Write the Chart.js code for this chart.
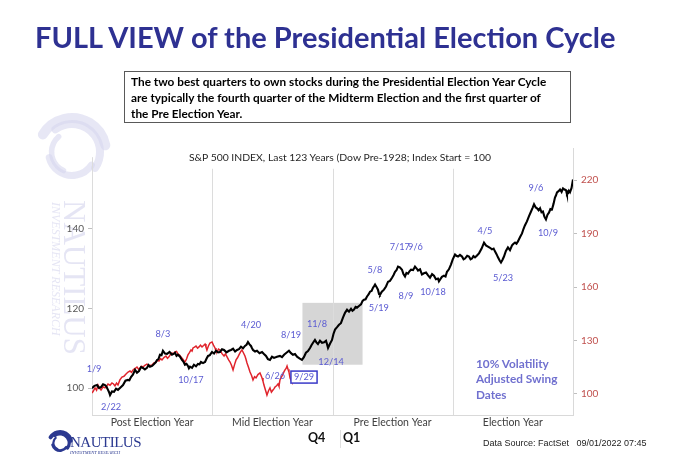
<!DOCTYPE html>
<html><head><meta charset="utf-8">
<script src="https://cdn.jsdelivr.net/npm/chart.js@4"></script>
<style>
html,body{margin:0;padding:0;background:#fff;}
#wrap{position:relative;width:680px;height:470px;overflow:hidden;font-family:Lato,'Open Sans',sans-serif;}
canvas{position:absolute;left:0;top:0;}
.abs{position:absolute;white-space:nowrap;}
</style></head><body>
<div id="wrap">
<canvas id="c" width="680" height="470"></canvas>
<div class="abs" style="left:35px;top:19px;font-size:29px;font-weight:bold;color:#2E3192;">FULL VIEW of the Presidential Election Cycle</div>
<div class="abs" style="left:124px;top:71px;width:447px;height:52px;border:1.5px solid #595959;box-sizing:border-box;padding:1.5px 6px;font-weight:bold;font-size:11.8px;line-height:16px;color:#000;">The two best quarters to own stocks during the Presidential Election Year Cycle<br>are typically the fourth quarter of the Midterm Election and the first quarter of<br>the Pre Election Year.</div>
<div class="abs" style="left:0;width:680px;text-align:center;top:151px;font-size:10.4px;color:#262626;">S&amp;P 500 INDEX, Last 123 Years (Dow Pre-1928; Index Start = 100</div>
<div class="abs" style="left:476px;top:356px;font-size:11.8px;font-weight:bold;color:#7070CF;line-height:15.3px;">10% Volatility<br>Adjusted Swing<br>Dates</div>
<div class="abs" style="left:308px;top:430px;font-size:12.5px;font-weight:bold;color:#111;">Q4</div>
<div class="abs" style="left:343px;top:430px;font-size:12.5px;font-weight:bold;color:#111;">Q1</div>
<div class="abs" style="left:340px;top:430px;width:1px;height:18px;background:#E0E0E0;"></div>
<div class="abs" style="left:483px;top:438px;font-size:9px;font-family:'Liberation Sans Narrow','Liberation Sans',sans-serif;color:#222;">Data Source: FactSet&nbsp;&nbsp;&nbsp;09/01/2022 07:45</div>
<div class="abs" style="left:70px;top:434px;font-size:15px;font-family:'Liberation Serif',serif;color:#2B3990;letter-spacing:-0.5px;">NAUTILUS</div>
<div class="abs" style="left:70px;top:450px;font-size:4.5px;font-style:italic;font-family:'Liberation Serif',serif;color:#2B3990;">INVESTMENT RESEARCH</div>
</div>
<script>
// ---- data ----
const yearLabels = ["Post Election Year", "Mid Election Year", "Pre Election Year", "Election Year"];
const leftTicks = [100, 120, 140];
const rightTicks = [100, 130, 160, 190, 220];

// 4-year cycle composite (left axis), x = years into cycle
const cycleX = [0,0.02,0.042,0.058,0.075,0.092,0.108,0.12,0.133,0.142,0.150,0.166,0.183,0.2,0.216,0.237,0.258,0.278,0.299,0.311,0.324,0.34,0.358,0.374,0.391,0.408,0.424,0.44,0.457,0.47,0.482,0.5,0.516,0.53,0.541,0.553,0.565,0.578,0.590,0.607,0.624,0.645,0.665,0.678,0.690,0.703,0.715,0.732,0.748,0.76,0.773,0.786,0.798,0.806,0.815,0.832,0.848,0.865,0.881,0.894,0.906,0.923,0.940,0.952,0.965,0.98,0.998,
1.015,1.031,1.048,1.064,1.081,1.098,1.118,1.139,1.156,1.173,1.19,1.206,1.222,1.239,1.256,1.272,1.285,1.297,1.31,1.322,1.33,1.339,1.356,1.372,1.393,1.414,1.43,1.447,1.463,1.480,1.497,1.514,1.538,1.563,1.58,1.597,1.617,1.638,1.655,1.671,1.688,1.705,1.725,1.746,1.762,1.779,1.796,1.813,1.825,1.838,1.854,1.866,1.879,1.896,1.913,1.93,1.946,1.955,1.963,1.98,1.996,
2.008,2.021,2.038,2.054,2.07,2.087,2.104,2.121,2.137,2.154,2.166,2.179,2.192,2.204,2.22,2.237,2.25,2.262,2.275,2.287,2.30,2.312,2.325,2.337,2.346,2.354,2.366,2.378,2.387,2.395,2.41,2.428,2.445,2.462,2.478,2.495,2.508,2.520,2.532,2.545,2.56,2.578,2.59,2.603,2.615,2.628,2.64,2.653,2.67,2.686,2.70,2.711,2.728,2.744,2.76,2.778,2.795,2.811,2.828,2.844,2.86,2.877,2.885,2.894,2.91,2.927,2.94,2.952,2.968,2.985,3.0,
3.019,3.03,3.044,3.06,3.077,3.09,3.102,3.12,3.135,3.148,3.160,3.172,3.185,3.2,3.218,3.24,3.260,3.276,3.293,3.31,3.326,3.34,3.351,3.364,3.376,3.39,3.401,3.414,3.426,3.442,3.459,3.476,3.493,3.505,3.518,3.53,3.542,3.56,3.576,3.588,3.600,3.617,3.635,3.651,3.664,3.676,3.69,3.701,3.714,3.726,3.738,3.750,3.762,3.775,3.788,3.800,3.812,3.825,3.838,3.850,3.858,3.867,3.88,3.892,3.905,3.917,3.93,3.942,3.95,3.958,3.966,3.975,3.988,4.0];
const cycleV = [100,100.6,100.8,100.1,100.3,101.0,100.8,100.4,99.6,99.0,98.3,99.2,99.1,99.9,99.6,100.2,100.8,101.9,102.1,102.0,102.8,103.4,104.6,103.9,104.3,105.3,105.1,104.7,105.1,105.8,105.4,105.6,106.1,106.5,107.1,107.3,108.4,108.3,109.4,108.7,108.6,109.1,108.4,108.6,108.9,108.1,108.4,107.9,107.1,106.7,105.9,106.1,105.6,105.0,105.4,105.1,105.9,105.5,106.1,106.0,106.6,106.3,106.6,107.4,108.1,108.3,109.1,
108.7,109.4,109.0,109.1,109.8,109.6,109.0,109.4,109.6,109.9,109.2,109.6,109.8,110.4,110.0,110.6,110.9,111.6,111.0,110.6,110.1,109.6,109.2,109.4,108.8,109.1,108.6,108.1,107.3,107.1,107.9,107.6,107.9,108.1,107.8,108.4,108.9,109.4,108.8,108.4,108.6,107.9,107.5,107.1,107.8,108.9,109.3,110.1,110.8,111.4,112.1,111.5,111.1,111.9,111.4,111.5,111.9,111.0,110.1,111.2,112.1,
113.6,114.7,115.3,115.9,116.3,117.7,118.9,119.7,119.2,119.9,119.4,119.7,120.4,120.2,120.6,121.0,121.9,122.2,122.3,123.0,123.5,124.2,124.4,125.2,125.6,126.0,125.4,124.7,123.6,123.4,124.2,124.7,125.5,126.7,126.9,127.7,128.4,129.2,129.6,130.5,130.3,129.7,128.6,128.0,128.9,128.7,129.3,129.7,129.6,130.5,130.0,129.5,129.8,128.5,128.8,129.0,128.3,127.7,128.6,128.2,127.3,127.5,126.8,127.2,127.9,128.2,128.0,129.2,129.8,131.0,132.3,
133.5,133.2,133.0,133.4,133.0,132.3,132.5,133.2,133.0,132.3,132.5,133.1,132.8,133.2,133.8,135.0,136.5,135.8,135.5,135.2,134.8,135.0,134.3,133.6,132.8,132.0,131.5,132.2,133.0,134.4,135.3,134.6,135.8,136.2,136.5,136.2,136.8,137.9,138.8,139.9,140.8,141.8,143.2,144.3,145.2,146.1,145.3,145.1,144.6,145.1,144.1,144.3,143.0,142.3,143.5,144.0,144.9,144.8,146.2,147.8,148.3,149.1,149.4,149.8,149.2,150.1,149.8,149.6,148.6,148.8,149.5,149.1,150.2,152.3];

// current cycle 2021-2022 (right axis)
const currentX = [0,0.012,0.025,0.038,0.050,0.062,0.075,0.092,0.108,0.12,0.133,0.15,0.166,0.179,0.191,0.204,0.216,0.232,0.249,0.266,0.283,0.3,0.316,0.328,0.341,0.358,0.374,0.387,0.399,0.412,0.424,0.44,0.457,0.478,0.499,0.515,0.532,0.545,0.557,0.57,0.582,0.598,0.615,0.628,0.640,0.652,0.665,0.678,0.690,0.703,0.715,0.728,0.740,0.756,0.773,0.786,0.798,0.81,0.823,0.832,0.840,0.852,0.865,0.878,0.890,0.902,0.915,0.928,0.940,0.948,0.956,0.968,0.981,0.998,1.01,1.023,1.031,1.040,1.052,1.064,1.081,1.098,1.11,1.123,1.136,1.148,1.16,1.173,1.186,1.198,1.21,1.222,1.235,1.247,1.26,1.272,1.28,1.289,1.302,1.314,1.327,1.339,1.352,1.364,1.38,1.397,1.406,1.414,1.422,1.430,1.443,1.455,1.468,1.480,1.492,1.505,1.514,1.522,1.535,1.547,1.555,1.563,1.576,1.588,1.597,1.605,1.614,1.622,1.63,1.638,1.647,1.655,1.663];
const currentV = [100.5,101.8,103.4,102.1,105.0,103.3,102.2,104.0,103.4,104.2,105.6,104.9,106.2,105.6,104.5,106.1,105.0,107.9,109.5,109.9,111.2,112.3,112.9,112.1,113.5,114.3,115.1,113.9,114.6,115.6,115.1,116.1,116.8,115.9,116.3,117.4,117.9,119.0,118.5,119.8,119.1,120.4,121.3,120.0,120.8,122.1,123.0,122.4,123.6,123.9,122.4,121.8,120.8,119.5,117.9,119.6,121.9,123.2,124.7,124.1,125.8,126.3,126.9,125.7,126.4,127.4,126.4,127.2,128.0,126.3,124.7,126.9,128.6,129.2,127.4,125.8,124.2,123.6,125.2,124.7,122.6,121.3,122.5,120.8,119.1,117.9,116.1,113.5,116.6,119.1,120.3,121.9,123.6,124.7,123.0,121.3,119.6,117.4,114.9,112.3,110.4,107.9,109.7,109.0,110.9,111.8,110.4,109.0,107.2,105.0,102.1,99.4,101.8,103.4,101.0,102.2,103.0,103.9,104.6,105.6,104.3,107.9,109.6,111.2,112.5,113.5,114.3,115.7,113.9,112.3,109.0,107.8,106.7];

// swing date labels: [text, x (years), y (left-axis value)]
const swingLabels = [
  ["1/9",0.017,104.8],["2/22",0.158,95.3],["8/3",0.590,113.6],["10/17",0.823,102.1],
  ["4/20",1.322,115.9],["8/19",1.655,113.4],["6/26",1.522,103.1],["9/29",1.763,102.8],
  ["11/8",1.871,116.2],["12/14",1.988,106.6],["5/8",2.353,129.7],["5/19",2.385,120.2],
  ["7/17",2.56,135.4],["9/6",2.69,135.4],["8/9",2.611,123.2],["10/18",2.836,124.0],
  ["4/5",3.268,139.5],["5/23",3.418,127.7],["9/6",3.692,150.1],["10/9",3.792,138.8]
];
const boxedLabel = "9/29";
const highlight = {x0:1.75, x1:2.25, y0:105.9, y1:121.4};

// ---- chart ----
const cyclePts = cycleX.map((x,i)=>({x, y:cycleV[i]}));
const currentPts = currentX.map((x,i)=>({x, y:currentV[i]}));

function swirl(ctx, cx, cy, r, color, w){
  ctx.save();
  ctx.strokeStyle = color; ctx.lineCap='round';
  const arcs = [[0, -2.6, -0.2, 1.0],[0.35, -2.2, 0.6, 0.8],[0.62, 0.6, 2.9, 0.7],[0.8, 2.0, 4.0, 0.55]];
  arcs.forEach(a=>{
    ctx.lineWidth = w*a[3];
    ctx.beginPath(); ctx.arc(cx, cy, r*(1-a[0]*0.5), a[1], a[2]); ctx.stroke();
  });
  ctx.restore();
}

const decor = {
  id:'decor',
  beforeDraw(chart){
    const ctx = chart.ctx;
    ctx.save();
    swirl(ctx, 72, 152, 34, 'rgba(215,215,238,0.6)', 10);
    ctx.translate(64, 200);
    ctx.rotate(Math.PI/2);
    ctx.fillStyle = 'rgba(212,212,236,0.6)';
    ctx.font = '31px "Liberation Serif", serif';
    ctx.textBaseline = 'alphabetic';
    ctx.fillText('NAUTILUS', 0, 0);
    ctx.font = 'italic 12px "Liberation Serif", serif';
    ctx.fillText('INVESTMENT RESEARCH', 2, 12);
    ctx.restore();
    swirl(ctx, 60, 443, 11, '#2B3990', 4);
  },
  beforeDatasetsDraw(chart){
    const ctx = chart.ctx, xs = chart.scales.x, yl = chart.scales.yL, a = chart.chartArea;
    ctx.save();
    ctx.fillStyle = '#D6D6D6';
    const bx0 = xs.getPixelForValue(highlight.x0), bx1 = xs.getPixelForValue(highlight.x1);
    const by0 = yl.getPixelForValue(highlight.y1), by1 = yl.getPixelForValue(highlight.y0);
    ctx.fillRect(bx0, by0, bx1-bx0, by1-by0);
    ctx.strokeStyle = '#DCDCDC'; ctx.lineWidth = 1;
    [1,2,3].forEach(v=>{
      const px = Math.round(xs.getPixelForValue(v))+0.5;
      ctx.beginPath(); ctx.moveTo(px, yl.getPixelForValue(155)); ctx.lineTo(px, a.bottom); ctx.stroke();
    });
    const lx = Math.round(a.left)+0.5;
    ctx.beginPath(); ctx.moveTo(lx, yl.getPixelForValue(157.9)); ctx.lineTo(lx, a.bottom); ctx.stroke();
    ctx.restore();
  },
  afterDatasetsDraw(chart){
    const ctx = chart.ctx, xs = chart.scales.x, yl = chart.scales.yL;
    ctx.save();
    ctx.font = '9.2px Lato, sans-serif';
    ctx.textAlign = 'center'; ctx.textBaseline = 'middle';
    swingLabels.forEach(([t,x,y])=>{
      const px = xs.getPixelForValue(x), py = yl.getPixelForValue(y);
      if (t === boxedLabel){
        const w = ctx.measureText(t).width + 6;
        ctx.fillStyle = '#fff';
        ctx.fillRect(px-w/2, py-6, w, 12);
        ctx.strokeStyle = '#3A3AC8'; ctx.lineWidth = 1.5;
        ctx.strokeRect(px-w/2, py-6, w, 12);
      }
      ctx.fillStyle = '#5A5AD2';
      ctx.fillText(t, px, py);
    });
    ctx.restore();
  }
};

new Chart(document.getElementById('c'), {
  type:'line',
  data:{datasets:[
    {label:'Cycle', data:cyclePts, borderColor:'#000', borderWidth:2.1, pointRadius:0, tension:0, yAxisID:'yL', order:1},
    {label:'2021-2022', data:currentPts, borderColor:'#E0242C', borderWidth:1.5, pointRadius:0, tension:0, yAxisID:'yR', order:2}
  ]},
  options:{
    responsive:false, animation:false, devicePixelRatio:1,
    layout:{padding:{left:62, right:67, top:148, bottom:35}},
    plugins:{legend:{display:false}, tooltip:{enabled:false}, title:{display:false}},
    scales:{
      x:{type:'linear', min:0, max:4,
        afterBuildTicks(s){ s.ticks = [0.5,1.5,2.5,3.5].map(v=>({value:v})); },
        afterFit(s){ s.height = 20; },
        ticks:{callback:(v)=>yearLabels[Math.floor(v)], color:'#404040', font:{family:'Lato', size:10.5}, padding:1, maxRotation:0, autoSkip:false},
        grid:{display:false, drawTicks:false},
        border:{display:true, color:'#D9D9D9'}
      },
      yL:{type:'linear', position:'left', min:93.3, max:160.2,
        afterBuildTicks(s){ s.ticks = leftTicks.map(v=>({value:v})); },
        afterFit(s){ s.width = 30; },
        ticks:{color:'#595959', font:{family:'Lato', size:10}, padding:4},
        grid:{drawOnChartArea:false, tickLength:4, color:'#BFBFBF'},
        border:{display:false}
      },
      yR:{type:'linear', position:'right', min:88.2, max:238,
        afterBuildTicks(s){ s.ticks = rightTicks.map(v=>({value:v})); },
        afterFit(s){ s.width = 40; },
        ticks:{color:'#C0504D', font:{family:'Lato', size:10}, padding:4},
        grid:{drawOnChartArea:false, tickLength:4, color:'#BFBFBF'},
        border:{display:true, color:'#D9D9D9'}
      }
    }
  },
  plugins:[decor]
});
</script>
</body></html>
